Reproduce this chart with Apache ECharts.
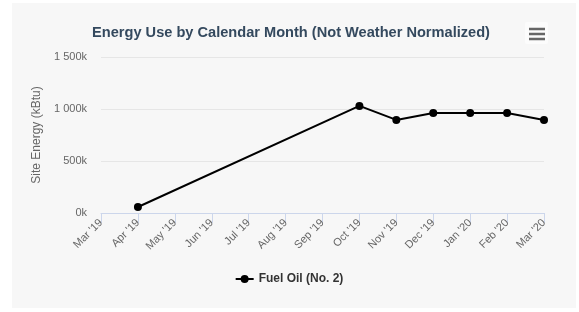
<!DOCTYPE html>
<html>
<head>
<meta charset="utf-8">
<script src="https://cdn.jsdelivr.net/npm/echarts@6/dist/echarts.min.js"></script>
<style>
html,body{margin:0;padding:0;background:#fff;}
#c{width:579px;height:312px;}
</style>
</head>
<body>
<div id="c"></div>
<script>
const categories = ["Mar '19","Apr '19","May '19","Jun '19","Jul '19","Aug '19","Sep '19","Oct '19","Nov '19","Dec '19","Jan '20","Feb '20","Mar '20"];
const fuelOil = [null, 58000, null, null, null, null, null, 1030000, 895000, 962000, 962000, 962000, 895000];
const yTicks = [0, 500000, 1000000, 1500000];

const chart = echarts.init(document.getElementById('c'));
chart.setOption({
  backgroundColor: '#fff',
  animation: false,
  title: {
    text: 'Energy Use by Calendar Month (Not Weather Normalized)',
    left: 286, top: 20, textAlign: 'center',
    textStyle: {color: '#34495e', fontSize: 14.6, fontWeight: 'bold', fontFamily: 'Liberation Sans, Arial, sans-serif'}
  },
  graphic: [
    {type: 'rect', z: -10, shape: {x: 12, y: 3, width: 564, height: 305}, style: {fill: '#f7f7f7'}},
    {type: 'rect', shape: {x: 525, y: 22, width: 23, height: 22, r: 2}, style: {fill: '#fcfcfc'}},
    {type: 'line', shape: {x1: 529, y1: 29, x2: 545, y2: 29}, style: {stroke: '#666', lineWidth: 2.5}},
    {type: 'line', shape: {x1: 529, y1: 34, x2: 545, y2: 34}, style: {stroke: '#666', lineWidth: 2.5}},
    {type: 'line', shape: {x1: 529, y1: 39, x2: 545, y2: 39}, style: {stroke: '#666', lineWidth: 2.5}}
  ],
  grid: {left: 101, right: 35, top: 57, bottom: 99},
  legend: {
    bottom: 22, left: 'center',
    itemWidth: 18, itemHeight: 8,
    textStyle: {color: '#333', fontWeight: 'bold', fontSize: 12, fontFamily: 'Liberation Sans, Arial, sans-serif'},
    data: [{name: 'Fuel Oil (No. 2)', icon: 'path://M0,4 L18,4 L18,6 L0,6 Z M9,1 A4,4 0 1,1 8.99,1 Z'}]
  },
  xAxis: {
    type: 'category', data: categories, boundaryGap: false,
    axisLine: {lineStyle: {color: '#ccd6eb'}},
    axisTick: {show: true, length: 10, lineStyle: {color: '#ccd6eb'}, alignWithLabel: true},
    axisLabel: {rotate: 45, color: '#666', fontSize: 11, margin: 8, interval: 0, fontFamily: 'Liberation Sans, Arial, sans-serif'},
    splitLine: {show: false}
  },
  yAxis: {
    type: 'value', min: 0, max: 1500000, interval: 500000,
    name: 'Site Energy (kBtu)', nameLocation: 'middle', nameGap: 47, nameRotate: 90,
    nameTextStyle: {color: '#666', fontSize: 12, fontFamily: 'Liberation Sans, Arial, sans-serif'},
    axisLine: {show: false}, axisTick: {show: false},
    axisLabel: {color: '#666', fontSize: 11, margin: 14, fontFamily: 'Liberation Sans, Arial, sans-serif',
      formatter: v => { const k = v/1000; return (k >= 1000 ? Math.floor(k/1000) + ' ' + String(k%1000).padStart(3,'0') : k) + 'k'; }},
    splitLine: {lineStyle: {color: '#e6e6e6'}}
  },
  series: [{
    name: 'Fuel Oil (No. 2)', type: 'line', data: fuelOil, connectNulls: true,
    symbol: 'circle', symbolSize: 8,
    lineStyle: {color: '#000', width: 2},
    itemStyle: {color: '#000'}
  }]
});
</script>
</body>
</html>
